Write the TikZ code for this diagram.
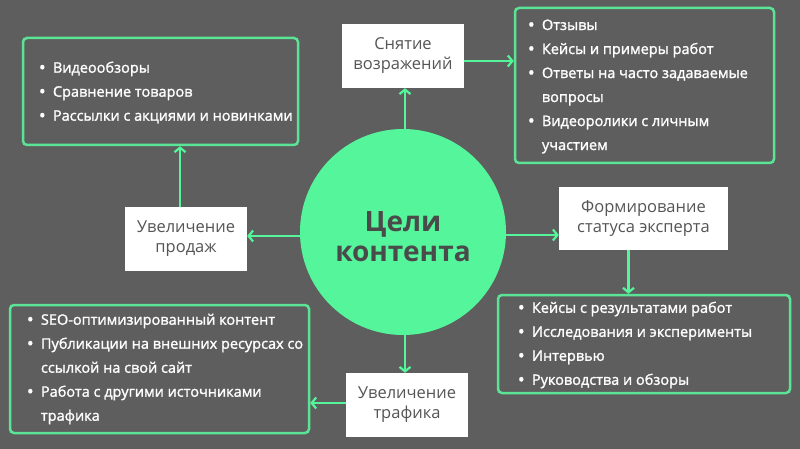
\documentclass[tikz,border=0pt]{standalone}
\usepackage{fontspec}
\setmainfont{Open Sans}
\newfontfamily\listfont{Open Sans}[FakeBold=1.5]
\usetikzlibrary{arrows.meta}
\definecolor{bgcol}{RGB}{94,94,94}
\definecolor{lgreen}{RGB}{85,245,155}
\definecolor{frame}{RGB}{92,228,150}
\definecolor{boxtext}{RGB}{85,85,85}
\definecolor{goaltext}{RGB}{74,74,74}
\newcommand{\itm}{\makebox[14pt][l]{\raisebox{-1pt}{\fontsize{18}{24}\selectfont\textbullet}}}
\newcommand{\cnt}{\hspace*{14pt}}
\begin{document}
\begin{tikzpicture}
[
    x=1pt, y=-1pt,
    goal/.style={circle, fill=lgreen, minimum size=206pt, inner sep=0pt},
    goaltitle/.style={inner sep=0pt, font=\bfseries\fontsize{28}{30}\selectfont,
        text=goaltext, align=center},
    goalbox/.style={fill=white, minimum width=122pt, minimum height=64pt, inner sep=0pt,
        font=\fontsize{16.5}{20}\selectfont, text=boxtext, align=center},
    listbox/.style={draw=frame, line width=2.5pt, rounded corners=4pt, inner sep=0pt},
    listtext/.style={anchor=west, inner sep=0pt, text=white, align=left,
        font=\listfont\fontsize{14.5}{24}\selectfont},
    arr/.style={draw=lgreen, line width=2.2pt, -{Straight Barb[length=4.5pt, width=11pt]}},
]
\path[fill=bgcol] (0,0) rectangle (800,449);

\node [goal] (goal) at (403,232) {};
\node [goaltitle] (goal-text) at ([yshift=-5pt]goal.center) {Цели\\контента};

\node [goalbox] (snyatie) at (403,56) {Снятие\\возражений};
\node [goalbox, minimum width=169pt, minimum height=63pt] (ekspert) at (643.5,218.5) {Формирование\\статуса эксперта};
\node [goalbox] (prodazhi) at (186,239) {Увеличение\\продаж};
\node [goalbox] (trafik) at (407,405) {Увеличение\\трафика};

\node [listbox, minimum width=259pt, minimum height=155pt] (tr) at (644.5,85.5) {};
\node [listtext] (tr-text) at ([xshift=14pt, yshift=-1pt]tr.west)
{\itm Отзывы\\
 \itm Кейсы и примеры работ\\
 \itm Ответы на часто задаваемые\\
 \cnt вопросы\\
 \itm Видеоролики с личным\\
 \cnt участием};

\node [listbox, minimum width=275pt, minimum height=107pt] (tl) at (160.5,91.5) {};
\node [listtext] (tl-text) at ([xshift=17pt, yshift=-1pt]tl.west)
{\itm Видеообзоры\\
 \itm Сравнение товаров\\
 \itm Рассылки с акциями и новинками};

\node [listbox, minimum width=292pt, minimum height=98pt] (br) at (644,344) {};
\node [listtext] (br-text) at ([xshift=21pt, yshift=-1pt]br.west)
{\itm Кейсы с результатами работ\\
 \itm Исследования и эксперименты\\
 \itm Интервью\\
 \itm Руководства и обзоры};

\node [listbox, minimum width=299pt, minimum height=128pt] (bl) at (159.5,369) {};
\node [listtext] (bl-text) at ([xshift=18pt]bl.west)
{\itm SEO-оптимизированный контент\\
 \itm Публикации на внешних ресурсах со\\
 \cnt ссылкой на свой сайт\\
 \itm Работа с другими источниками\\
 \cnt трафика};

\draw [arr] ([xshift=2pt]goal.north) -- ([xshift=2pt]goal.north |- snyatie.south);
\draw [arr] ([yshift=-5pt]snyatie.east) -- ([yshift=-5pt]snyatie.east -| tr.west);
\draw [arr] ([yshift=-3pt]goal.east) -- ([yshift=-3pt]goal.east -| ekspert.west);
\draw [arr] ([xshift=-15pt]ekspert.south) -- ([xshift=-15pt]ekspert.south |- br.north);
\draw [arr] ([yshift=-4pt]goal.west) -- ([yshift=-4pt]goal.west -| prodazhi.east);
\draw [arr] ([xshift=-6pt]prodazhi.north) -- ([xshift=-6pt]prodazhi.north |- tl.south);
\draw [arr] ([xshift=2pt]goal.south) -- ([xshift=2pt]goal.south |- trafik.north);
\draw [arr] ([yshift=2pt]trafik.west) -- ([yshift=2pt]trafik.west -| bl.east);
\end{tikzpicture}
\end{document}
